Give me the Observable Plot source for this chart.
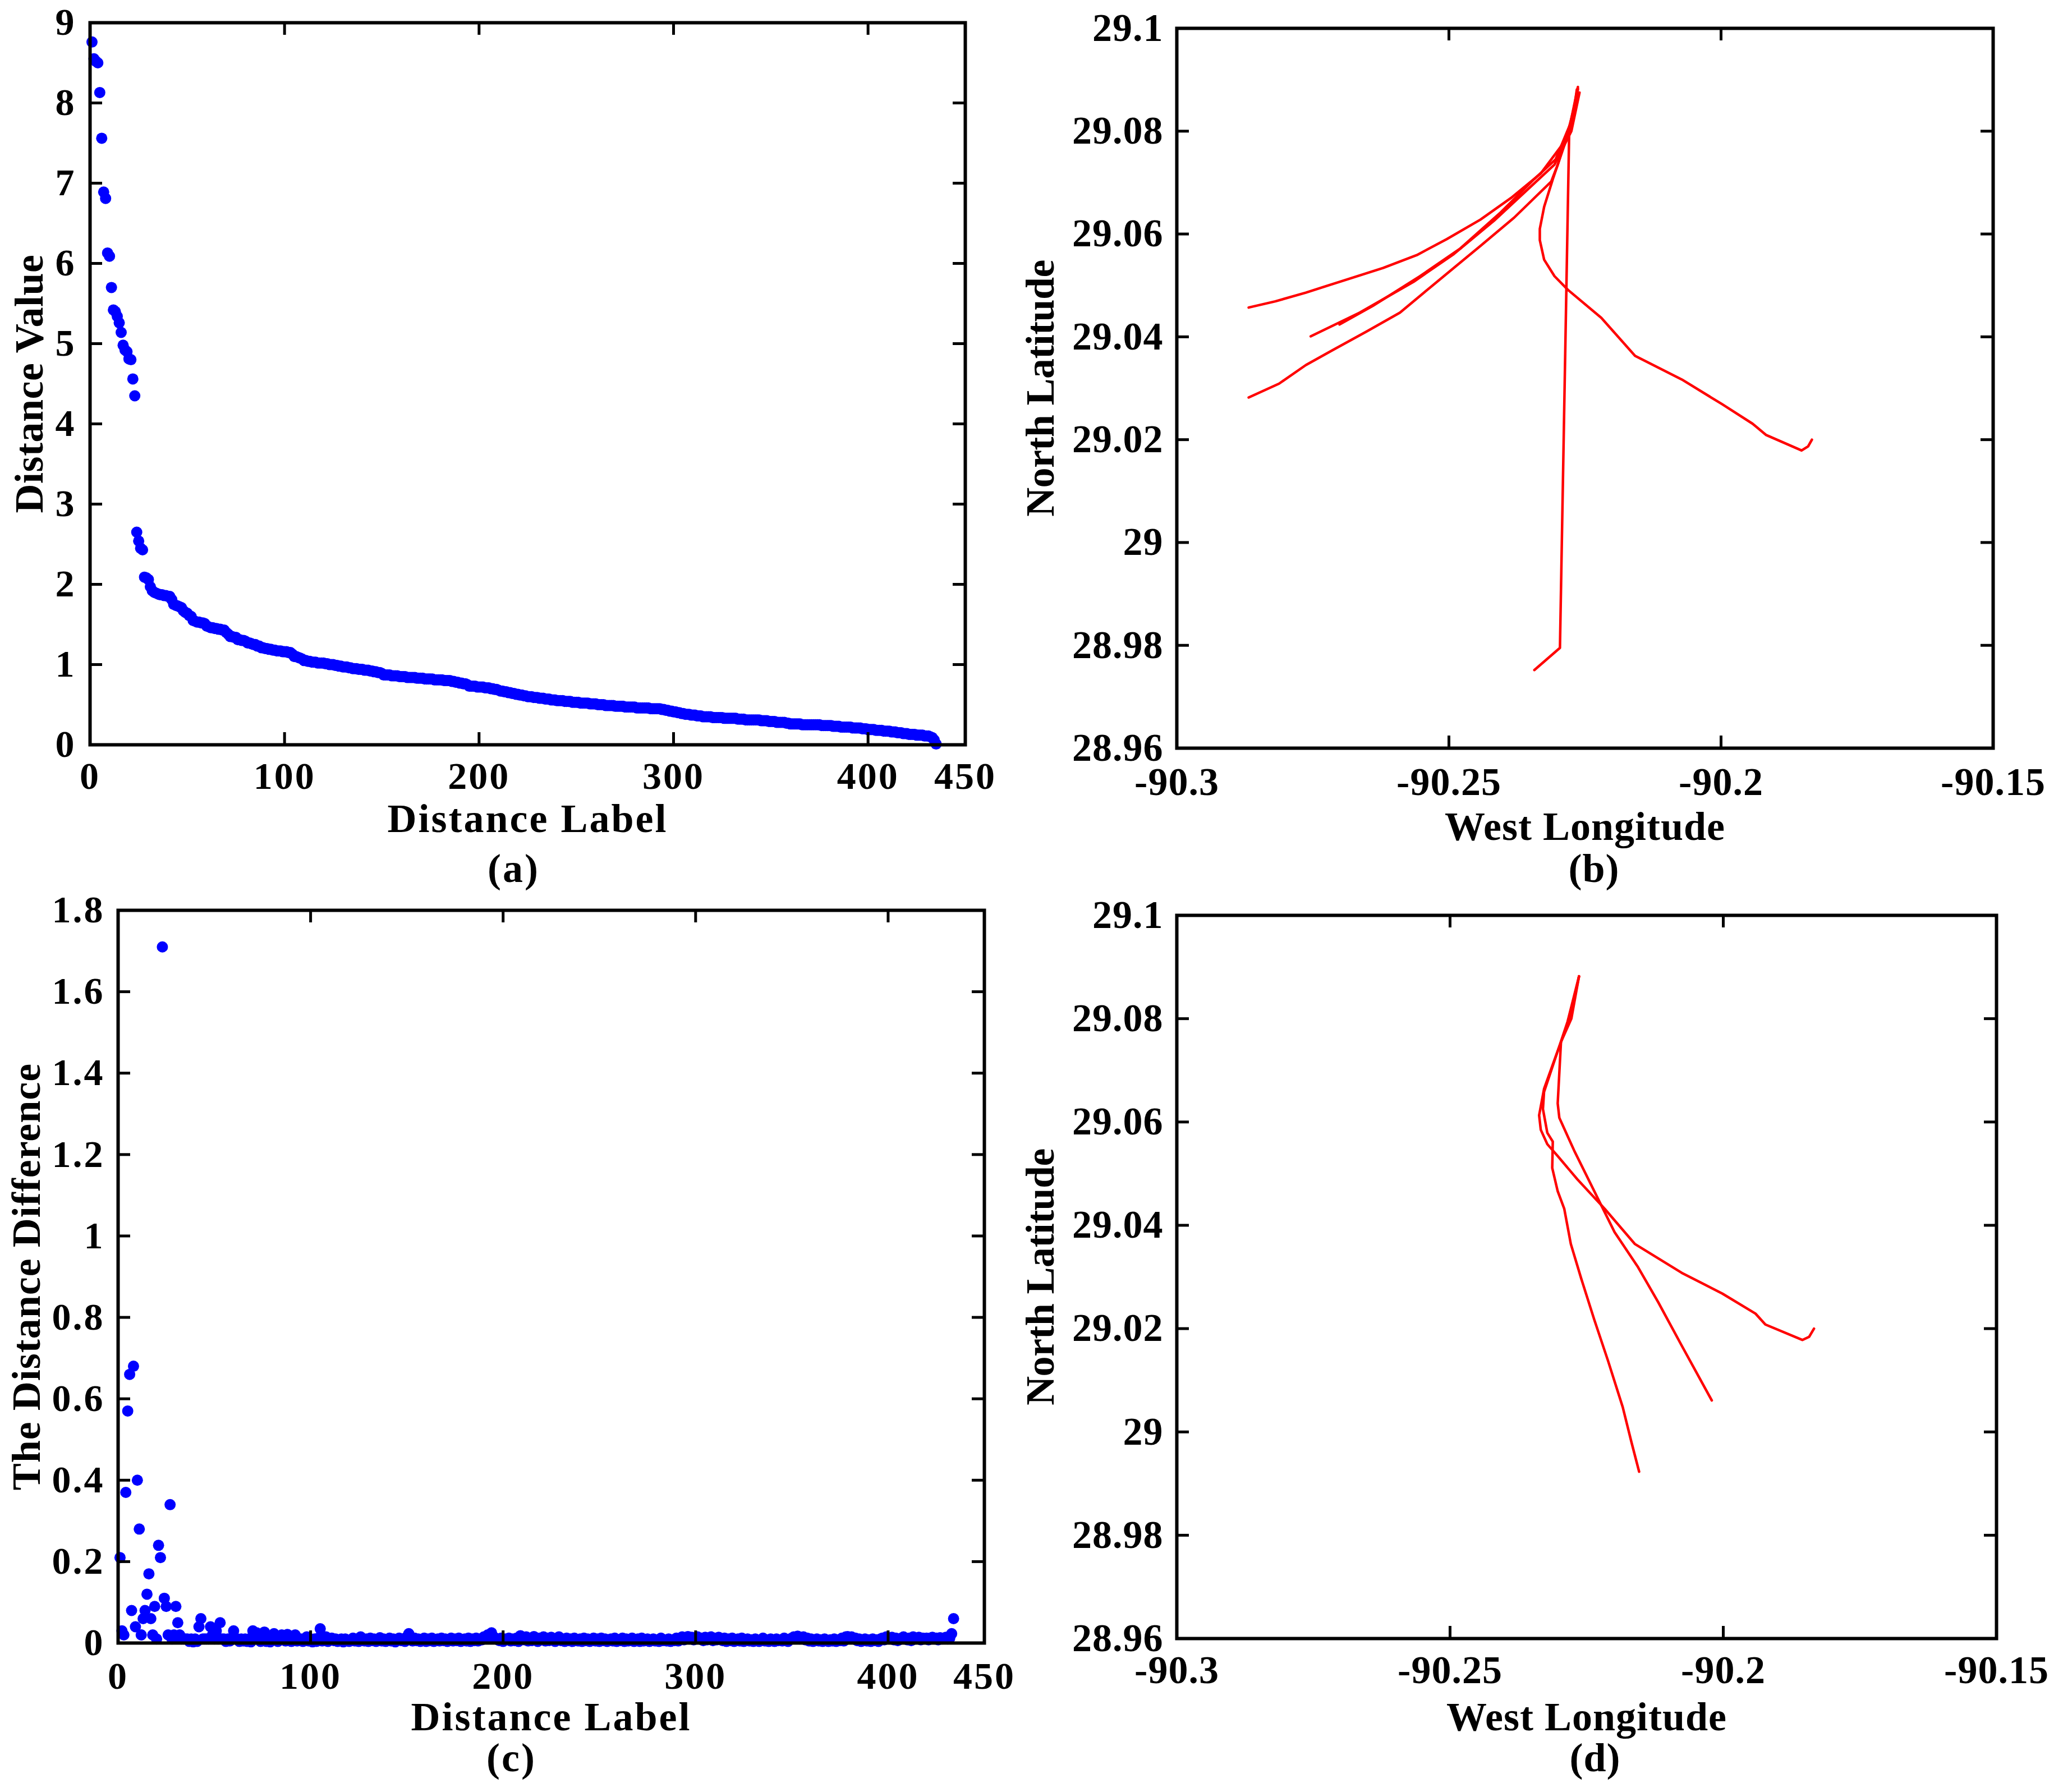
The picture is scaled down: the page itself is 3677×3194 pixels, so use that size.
<!DOCTYPE html>
<html><head><meta charset="utf-8">
<script src="https://cdn.jsdelivr.net/npm/d3@7"></script>
<script src="https://cdn.jsdelivr.net/npm/@observablehq/plot@0.6"></script>
<style>
html,body{margin:0;padding:0;background:#fff;}
#root{position:relative;width:3677px;height:3194px;background:#fff;overflow:hidden;}
.panel{position:absolute;}
.panel svg{background:transparent !important;max-width:none !important;}
</style></head><body><div id="root"></div>
<script>
// ---------- Panel (a): sorted distance values (index = Distance Label) ----------
const distanceValue = [
8.76,8.55,8.52,8.50,8.13,7.56,6.89,6.81,6.13,6.09,
5.70,5.42,5.40,5.34,5.26,5.14,4.98,4.92,4.90,4.81,
4.80,4.56,4.35,2.65,2.54,2.45,2.43,2.09,2.08,2.06,
1.97,1.92,1.90,1.89,1.88,1.87,1.87,1.86,1.86,1.85,
1.85,1.81,1.75,1.74,1.73,1.72,1.71,1.67,1.65,1.64,
1.61,1.60,1.55,1.54,1.53,1.53,1.52,1.52,1.51,1.48,
1.47,1.46,1.46,1.45,1.45,1.44,1.44,1.43,1.43,1.40,
1.38,1.35,1.35,1.34,1.34,1.31,1.31,1.30,1.30,1.29,
1.27,1.27,1.26,1.25,1.25,1.23,1.23,1.21,1.21,1.20,
1.20,1.19,1.19,1.18,1.18,1.17,1.17,1.17,1.16,1.16,
1.16,1.15,1.15,1.13,1.10,1.10,1.09,1.08,1.07,1.05,
1.05,1.04,1.04,1.03,1.03,1.03,1.02,1.02,1.02,1.02,
1.01,1.01,1.00,1.00,1.00,0.99,0.99,0.98,0.98,0.97,
0.97,0.97,0.96,0.96,0.95,0.95,0.95,0.94,0.94,0.94,
0.93,0.93,0.93,0.92,0.92,0.91,0.91,0.90,0.90,0.89,
0.87,0.87,0.87,0.87,0.86,0.86,0.86,0.86,0.85,0.85,
0.85,0.85,0.84,0.84,0.84,0.84,0.84,0.83,0.83,0.83,
0.83,0.82,0.82,0.82,0.82,0.82,0.81,0.81,0.81,0.81,
0.81,0.80,0.80,0.80,0.80,0.79,0.79,0.78,0.78,0.77,
0.77,0.76,0.76,0.75,0.73,0.73,0.73,0.73,0.72,0.72,
0.72,0.72,0.71,0.71,0.71,0.70,0.70,0.69,0.69,0.68,
0.67,0.67,0.66,0.66,0.65,0.65,0.64,0.64,0.63,0.63,
0.62,0.62,0.61,0.61,0.60,0.60,0.60,0.59,0.59,0.59,
0.58,0.58,0.58,0.57,0.57,0.57,0.56,0.56,0.56,0.55,
0.55,0.55,0.55,0.54,0.54,0.54,0.54,0.53,0.53,0.53,
0.53,0.52,0.52,0.52,0.52,0.52,0.51,0.51,0.51,0.51,
0.50,0.50,0.50,0.50,0.49,0.49,0.49,0.49,0.49,0.48,
0.48,0.48,0.48,0.48,0.47,0.47,0.47,0.47,0.47,0.47,
0.46,0.46,0.46,0.46,0.46,0.46,0.46,0.45,0.45,0.45,
0.45,0.45,0.45,0.44,0.44,0.43,0.43,0.42,0.42,0.41,
0.41,0.40,0.40,0.39,0.39,0.38,0.38,0.38,0.37,0.37,
0.37,0.36,0.36,0.36,0.35,0.35,0.35,0.35,0.35,0.34,
0.34,0.34,0.34,0.34,0.34,0.33,0.33,0.33,0.33,0.33,
0.33,0.33,0.32,0.32,0.32,0.32,0.31,0.31,0.31,0.31,
0.31,0.31,0.31,0.31,0.30,0.30,0.30,0.30,0.29,0.29,
0.29,0.29,0.28,0.28,0.28,0.28,0.28,0.27,0.27,0.26,
0.26,0.26,0.26,0.26,0.26,0.25,0.25,0.25,0.25,0.25,
0.25,0.25,0.25,0.25,0.25,0.24,0.24,0.24,0.24,0.24,
0.24,0.23,0.23,0.23,0.23,0.22,0.22,0.22,0.22,0.22,
0.22,0.21,0.21,0.21,0.21,0.21,0.20,0.20,0.20,0.19,
0.19,0.19,0.19,0.18,0.18,0.18,0.18,0.17,0.17,0.17,
0.17,0.16,0.16,0.16,0.15,0.15,0.15,0.14,0.14,0.14,
0.13,0.13,0.13,0.13,0.12,0.12,0.12,0.12,0.11,0.11,
0.11,0.10,0.09,0.06,0.01
];

// ---------- Panel (c): distance difference (index = Distance Label) ----------
const distanceDiff = [
0.21,0.03,0.02,0.37,0.57,0.66,0.08,0.68,0.04,0.40,
0.28,0.02,0.06,0.08,0.12,0.17,0.06,0.02,0.09,0.01,
0.24,0.21,1.71,0.11,0.09,0.02,0.34,0.01,0.02,0.09,
0.05,0.02,0.01,0.01,0.01,0.01,0.004,0.01,0.003,0.01,
0.004,0.04,0.06,0.01,0.01,0.01,0.01,0.04,0.02,0.01,
0.03,0.01,0.05,0.01,0.01,0.004,0.01,0.005,0.01,0.03,
0.01,0.01,0.004,0.01,0.005,0.01,0.004,0.01,0.003,0.03,
0.01,0.025,0.01,0.004,0.01,0.027,0.004,0.01,0.003,0.01,
0.023,0.01,0.004,0.01,0.02,0.01,0.005,0.021,0.01,0.004,
0.01,0.02,0.005,0.01,0.01,0.004,0.01,0.015,0.005,0.01,
0.003,0.01,0.004,0.012,0.035,0.005,0.01,0.015,0.004,0.01,
0.012,0.006,0.01,0.004,0.008,0.01,0.003,0.01,0.006,0.004,
0.008,0.012,0.005,0.01,0.004,0.015,0.008,0.005,0.01,0.004,
0.012,0.006,0.01,0.004,0.008,0.013,0.005,0.01,0.004,0.008,
0.012,0.005,0.01,0.003,0.008,0.012,0.006,0.01,0.004,0.015,
0.023,0.008,0.005,0.012,0.006,0.01,0.004,0.008,0.012,0.004,
0.01,0.006,0.012,0.004,0.008,0.01,0.005,0.012,0.006,0.01,
0.004,0.008,0.012,0.005,0.01,0.006,0.012,0.004,0.008,0.01,
0.005,0.012,0.004,0.01,0.006,0.012,0.005,0.01,0.008,0.015,
0.012,0.02,0.018,0.025,0.015,0.012,0.01,0.006,0.012,0.004,
0.01,0.008,0.012,0.005,0.01,0.006,0.012,0.004,0.018,0.012,
0.008,0.015,0.005,0.012,0.006,0.016,0.01,0.004,0.012,0.008,
0.015,0.005,0.012,0.006,0.014,0.008,0.004,0.012,0.015,0.006,
0.01,0.004,0.012,0.006,0.01,0.004,0.012,0.008,0.005,0.01,
0.004,0.012,0.006,0.01,0.004,0.008,0.012,0.005,0.01,0.004,
0.012,0.006,0.01,0.004,0.008,0.01,0.005,0.012,0.004,0.008,
0.006,0.012,0.004,0.01,0.005,0.008,0.012,0.004,0.006,0.01,
0.004,0.012,0.005,0.008,0.01,0.004,0.006,0.01,0.005,0.008,
0.004,0.012,0.006,0.008,0.005,0.01,0.004,0.008,0.006,0.012,
0.005,0.01,0.015,0.008,0.012,0.016,0.01,0.014,0.008,0.012,
0.015,0.01,0.012,0.006,0.014,0.008,0.012,0.015,0.006,0.012,
0.008,0.014,0.01,0.006,0.012,0.004,0.01,0.006,0.012,0.004,
0.008,0.01,0.005,0.012,0.004,0.008,0.01,0.005,0.008,0.004,
0.01,0.006,0.004,0.008,0.012,0.005,0.008,0.004,0.01,0.006,
0.004,0.01,0.006,0.008,0.005,0.012,0.008,0.004,0.01,0.012,
0.015,0.012,0.017,0.01,0.012,0.015,0.008,0.012,0.005,0.01,
0.004,0.008,0.01,0.005,0.008,0.004,0.01,0.006,0.004,0.008,
0.005,0.01,0.004,0.008,0.006,0.012,0.005,0.015,0.016,0.012,
0.015,0.01,0.012,0.006,0.01,0.004,0.008,0.01,0.005,0.008,
0.004,0.01,0.006,0.008,0.004,0.01,0.012,0.008,0.015,0.012,
0.01,0.014,0.008,0.012,0.006,0.01,0.012,0.015,0.01,0.008,
0.012,0.006,0.015,0.01,0.012,0.014,0.008,0.012,0.01,0.012,
0.008,0.012,0.014,0.01,0.012,0.008,0.013,0.01,0.012,0.014,
0.01,0.012,0.023,0.06
];

// ---------- Axis ticks ----------
const labelTicks = [0, 100, 200, 300, 400, 450];
const labelTickMarks = [100, 200, 300, 400];
const valueTicks = [0, 1, 2, 3, 4, 5, 6, 7, 8, 9];
const diffTicks = [0, 0.2, 0.4, 0.6, 0.8, 1, 1.2, 1.4, 1.6, 1.8];
const lonTicks = [-90.3, -90.25, -90.2, -90.15];
const latTicks = [28.96, 28.98, 29, 29.02, 29.04, 29.06, 29.08, 29.1];

// ---------- Panel (b): trajectories of one cluster ----------
const trackB1_lon = [-90.2868,-90.2819,-90.2763,-90.2701,-90.2621,-90.2559,-90.2504,-90.2442,-90.2386,-90.2331,-90.2281,-90.2263];
const trackB1_lat = [29.0457,29.0469,29.0486,29.0507,29.0534,29.0559,29.0590,29.0628,29.0670,29.0718,29.0789,29.0881];
const trackB2_lon = [-90.2754,-90.2664,-90.2565,-90.2491,-90.2417,-90.2356,-90.2306,-90.2275,-90.2260];
const trackB2_lat = [29.0401,29.0447,29.0507,29.0561,29.0626,29.0686,29.0735,29.0800,29.0875];
const trackB3_lon = [-90.2701,-90.2640,-90.2553,-90.2479,-90.2405,-90.2343,-90.2304,-90.2272,-90.2265];
const trackB3_lat = [29.0424,29.0460,29.0518,29.0572,29.0642,29.0707,29.0745,29.0827,29.0881];
const trackB4_lon = [-90.2868,-90.2812,-90.2763,-90.2714,-90.2652,-90.2590,-90.2547,-90.2491,-90.2442,-90.2380,-90.2312,-90.2300,-90.2281,-90.2264];
const trackB4_lat = [29.0282,29.0309,29.0345,29.0374,29.0410,29.0447,29.0485,29.0534,29.0577,29.0632,29.0702,29.0735,29.0800,29.0870];
const trackB5_lon = [-90.2263,-90.2281,-90.2309,-90.2325,-90.2333,-90.2333,-90.2325,-90.2306,-90.2281,-90.2220,-90.2158,-90.2072,-90.1998,-90.1942,-90.1917,-90.1852,-90.1840,-90.1833];
const trackB5_lat = [29.0886,29.0794,29.0707,29.0653,29.0610,29.0588,29.0550,29.0518,29.0491,29.0437,29.0363,29.0317,29.0269,29.0231,29.0209,29.0179,29.0187,29.0200];
const trackB6_lon = [-90.2263,-90.2279,-90.2296,-90.2343];
const trackB6_lat = [29.0883,29.0800,28.9795,28.9752];

// ---------- Panel (d): trajectories of another cluster ----------
const trackD1_lon = [-90.2264,-90.2278,-90.2297,-90.2303,-90.2300,-90.2273,-90.2236,-90.2199,-90.2156,-90.2119,-90.2076,-90.2021];
const trackD1_lat = [29.0882,29.0800,29.0755,29.0636,29.0608,29.0545,29.0466,29.0387,29.0319,29.0251,29.0167,29.0061];
const trackD2_lon = [-90.2264,-90.2285,-90.2310,-90.2328,-90.2330,-90.2322,-90.2312,-90.2313,-90.2303,-90.2291,-90.2279,-90.2260,-90.2236,-90.2211,-90.2184,-90.2168,-90.2154];
const trackD2_lat = [29.0882,29.0794,29.0715,29.0658,29.0625,29.0579,29.0562,29.0511,29.0466,29.0432,29.0364,29.0297,29.0217,29.0138,29.0048,28.9980,28.9923];
const trackD3_lon = [-90.2264,-90.2279,-90.2307,-90.2328,-90.2337,-90.2334,-90.2322,-90.2303,-90.2267,-90.2217,-90.2162,-90.2076,-90.2002,-90.1941,-90.1923,-90.1855,-90.1843,-90.1834];
const trackD3_lat = [29.0882,29.0806,29.0726,29.0664,29.0613,29.0585,29.0557,29.0534,29.0489,29.0432,29.0364,29.0308,29.0268,29.0229,29.0208,29.0178,29.0184,29.0200];

const FONT = "'Liberation Serif','Times New Roman',serif";
const root = document.getElementById("root");

function panel(cfg) {
  const innerW = cfg.width - cfg.ml - cfg.mr;
  const innerH = cfg.height - cfg.mt - cfg.mb;
  const T = 22;
  const fmt = d => String(d);
  const marks = [
    ...cfg.marks,
    Plot.frame({stroke: "black", strokeWidth: 6}),
    Plot.ruleX(cfg.xMarks, {x: d => d, insetTop: innerH - T, stroke: "black", strokeWidth: 5}),
    Plot.ruleX(cfg.xMarks, {x: d => d, insetBottom: innerH - T, stroke: "black", strokeWidth: 5}),
    Plot.ruleY(cfg.yMarks, {y: d => d, insetRight: innerW - T, stroke: "black", strokeWidth: 5}),
    Plot.ruleY(cfg.yMarks, {y: d => d, insetLeft: innerW - T, stroke: "black", strokeWidth: 5}),
    Plot.axisX(cfg.xTicks, {anchor: "bottom", tickSize: 0, tickPadding: cfg.padX, tickFormat: fmt, label: null,
      fontSize: cfg.tickFont, fontWeight: "bold", fill: "black"}),
    Plot.axisY(cfg.yTicks, {anchor: "left", tickSize: 0, tickPadding: cfg.padY, tickFormat: fmt, label: null,
      fontSize: cfg.tickFont, fontWeight: "bold", fill: "black"}),
    Plot.text([cfg.xTitle], {text: d => d, frameAnchor: "bottom", dy: cfg.xTitleDy, lineAnchor: "middle",
      textAnchor: "middle", fontSize: 72, fontWeight: "bold", fill: "black"}),
    Plot.text([cfg.yTitle], {text: d => d, frameAnchor: "left", rotate: -90, dx: cfg.yTitleDx, lineAnchor: "middle",
      textAnchor: "middle", fontSize: 72, fontWeight: "bold", fill: "black"}),
    Plot.text([cfg.letter], {text: d => d, frameAnchor: "bottom", dy: cfg.letterDy, dx: cfg.letterDx, lineAnchor: "middle",
      textAnchor: "middle", fontSize: 72, fontWeight: "bold", fill: "black"})
  ];
  const chart = Plot.plot({
    width: cfg.width, height: cfg.height,
    marginTop: cfg.mt, marginRight: cfg.mr, marginBottom: cfg.mb, marginLeft: cfg.ml,
    x: {domain: cfg.xDomain},
    y: {domain: cfg.yDomain},
    style: {fontFamily: FONT, background: "transparent", overflow: "visible", color: "black"},
    marks
  });
  // letter spacing to match the wider type of the original figure
  chart.querySelectorAll("text").forEach(t => {
    const tr = t.getAttribute("transform") || "";
    t.style.letterSpacing = (tr.includes("rotate") ? cfg.lsRot : cfg.lsHor) + "px";
  });
  const div = document.createElement("div");
  div.className = "panel";
  div.style.left = cfg.left + "px";
  div.style.top = cfg.top + "px";
  div.style.width = cfg.width + "px";
  div.style.height = cfg.height + "px";
  div.appendChild(chart);
  root.appendChild(div);
}

const redLine = (lon, lat) => Plot.line(lat, {x: lon, y: lat, stroke: "#ff0000", strokeWidth: 4.5, strokeLinejoin: "round", strokeLinecap: "round"});

// (a)
panel({
  left: 0, top: 0, width: 1800, height: 1600, mt: 40, mr: 80, mb: 273, ml: 160,
  xDomain: [0, 450], yDomain: [0, 9],
  xTicks: labelTicks, yTicks: valueTicks, xMarks: labelTickMarks, yMarks: valueTicks.slice(1, -1),
  tickFont: 68, padX: 30, padY: 25, lsHor: 3, lsRot: 0.5,
  xTitle: "Distance Label", yTitle: "Distance Value", letter: "(a)",
  xTitleDy: 132, yTitleDx: -108, letterDy: 221, letterDx: -25,
  marks: [Plot.dot(distanceValue, {x: (d, i) => i + 1, y: d => d, r: 10, fill: "#0000ff"})]
});

// (b)
panel({
  left: 1800, top: 0, width: 1877, height: 1600, mt: 50, mr: 125, mb: 267, ml: 297,
  xDomain: [-90.3, -90.15], yDomain: [28.96, 29.1],
  xTicks: lonTicks, yTicks: latTicks, xMarks: lonTicks.slice(1, -1), yMarks: latTicks.slice(1, -1),
  tickFont: 70, padX: 34, padY: 24, lsHor: 1, lsRot: -0.6,
  xTitle: "West Longitude", yTitle: "North Latitude", letter: "(b)",
  xTitleDy: 140, yTitleDx: -243, letterDy: 215, letterDx: 16,
  marks: [
    redLine(trackB1_lon, trackB1_lat), redLine(trackB2_lon, trackB2_lat), redLine(trackB3_lon, trackB3_lat),
    redLine(trackB4_lon, trackB4_lat), redLine(trackB5_lon, trackB5_lat), redLine(trackB6_lon, trackB6_lat)
  ]
});

// (c)
panel({
  left: 0, top: 1560, width: 1850, height: 1634, mt: 62, mr: 96, mb: 266, ml: 210,
  xDomain: [0, 450], yDomain: [0, 1.8],
  xTicks: labelTicks, yTicks: diffTicks, xMarks: labelTickMarks, yMarks: diffTicks.slice(1, -1),
  tickFont: 68, padX: 33, padY: 24, lsHor: 3, lsRot: 1,
  xTitle: "Distance Label", yTitle: "The Distance Difference", letter: "(c)",
  xTitleDy: 132, yTitleDx: -163, letterDy: 205, letterDx: -71,
  marks: [Plot.dot(distanceDiff, {x: (d, i) => i + 1, y: d => d, r: 10, fill: "#0000ff"})]
});

// (d)
panel({
  left: 1800, top: 1560, width: 1877, height: 1634, mt: 71, mr: 119, mb: 274, ml: 297,
  xDomain: [-90.3, -90.15], yDomain: [28.96, 29.1],
  xTicks: lonTicks, yTicks: latTicks, xMarks: lonTicks.slice(1, -1), yMarks: latTicks.slice(1, -1),
  tickFont: 70, padX: 30, padY: 24, lsHor: 1, lsRot: -0.6,
  xTitle: "West Longitude", yTitle: "North Latitude", letter: "(d)",
  xTitleDy: 140, yTitleDx: -243, letterDy: 213, letterDx: 15,
  marks: [
    redLine(trackD1_lon, trackD1_lat), redLine(trackD2_lon, trackD2_lat), redLine(trackD3_lon, trackD3_lat)
  ]
});
</script>
</body></html>
